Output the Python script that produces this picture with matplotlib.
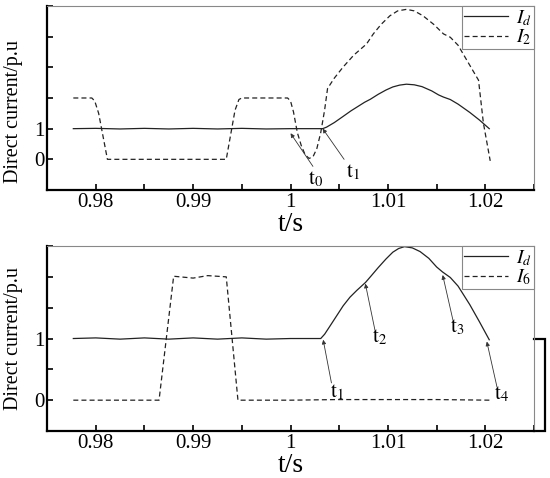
import numpy as np
import matplotlib
matplotlib.use("Agg")
import matplotlib.pyplot as plt

plt.rcParams['font.family'] = ['Liberation Serif', 'DejaVu Serif']
plt.rcParams['mathtext.fontset'] = 'stix'

# --- data ---
# upper panel
t_id_a = [0.9777, 0.980, 0.9825, 0.985, 0.9875, 0.990, 0.9925, 0.995, 0.9975, 1.000,
          1.0033, 1.0037, 1.0045, 1.0054, 1.0062, 1.0070, 1.0076, 1.0082, 1.0090,
          1.0098, 1.0105, 1.0112, 1.0119, 1.0127, 1.0135, 1.0145, 1.0152, 1.0157,
          1.0164, 1.0172, 1.0184, 1.0194, 1.0204]
v_id_a = [1.0, 1.01, 0.99, 1.01, 0.99, 1.01, 0.99, 1.01, 0.99, 1.0,
          1.0, 1.05, 1.20, 1.40, 1.58, 1.74, 1.86, 1.96, 2.12,
          2.26, 2.36, 2.42, 2.45, 2.43, 2.37, 2.23, 2.10, 2.03,
          1.95, 1.80, 1.53, 1.28, 1.0]

t_i2 = [0.9777, 0.9796, 0.9799, 0.9803, 0.9812, 0.9934, 0.9943, 0.9947, 0.9950,
        0.9997, 1.0000, 1.0003, 1.0007, 1.0011, 1.0015, 1.0019, 1.0023, 1.0027,
        1.0031, 1.0035, 1.0038, 1.0045, 1.0054, 1.0065, 1.0078, 1.0085, 1.0093,
        1.0102, 1.0110, 1.0119, 1.0127, 1.0136, 1.0147, 1.0157, 1.0164, 1.0172,
        1.0181, 1.0193, 1.0198, 1.0205]
v_i2 = [2.0, 2.0, 1.9, 1.5, 0.0, 0.0, 1.6, 1.95, 2.0,
        2.0, 1.9, 1.55, 0.87, 0.45, 0.15, 0.03, 0.08, 0.35,
        0.87, 1.61, 2.31, 2.65, 3.01, 3.40, 3.76, 4.09, 4.40,
        4.68, 4.84, 4.89, 4.84, 4.68, 4.40, 4.09, 3.98, 3.72,
        3.23, 2.58, 1.18, -0.05]

# lower panel
t_id_b = [0.9777, 0.980, 0.9825, 0.985, 0.9875, 0.990, 0.9925, 0.995, 0.9975, 1.000,
          1.0031, 1.0035, 1.0040, 1.0047, 1.0054, 1.0061, 1.0068, 1.0077, 1.0083,
          1.0090, 1.0098, 1.0105, 1.0111, 1.0117, 1.0125, 1.0133, 1.0142, 1.0150,
          1.0156, 1.0164, 1.0172, 1.0184, 1.0194, 1.0204]
v_id_b = [1.0, 1.01, 0.99, 1.01, 0.99, 1.01, 0.99, 1.01, 0.99, 1.0,
          1.0, 1.07, 1.19, 1.36, 1.53, 1.67, 1.78, 1.91, 2.02,
          2.15, 2.29, 2.40, 2.46, 2.49, 2.47, 2.41, 2.30, 2.16,
          2.08, 1.99, 1.85, 1.55, 1.27, 0.98]

t_i6 = [0.9777, 0.9865, 0.9880, 0.9900, 0.9915, 0.9934, 0.9946, 1.000, 1.0048, 1.0150, 1.0205]
v_i6 = [0.0, 0.0, 2.01, 1.98, 2.02, 2.0, 0.0, 0.0, 0.01, 0.01, 0.0]

xticks = [0.975, 0.98, 0.985, 0.99, 0.995, 1.0, 1.005, 1.01, 1.015, 1.02, 1.025]
xticklabels = ['', '0.98', '', '0.99', '', '1', '', '1.01', '', '1.02', '']

yticks_a = [-1, 0, 1, 2, 3, 4, 5]
yticklabels_a = ['', '0', '1', '', '', '', '']
yticks_b = [-0.5, 0, 0.5, 1, 1.5, 2, 2.5]
yticklabels_b = ['', '0', '', '1', '', '', '']

# annotation (label, arrow head, arrow tail, text position)
notes_a = [(r'$\mathrm{t}_0$', (1.0000, 0.85), (1.0023, -0.23), (1.0026, -0.65)),
           (r'$\mathrm{t}_1$', (1.0033, 1.0), (1.0055, 0.0), (1.0064, -0.43))]
notes_b = [(r'$\mathrm{t}_1$', (1.00335, 0.98), (1.0042, 0.28), (1.0048, 0.13)),
           (r'$\mathrm{t}_2$', (1.00768, 1.89), (1.0087, 1.11), (1.0091, 1.02)),
           (r'$\mathrm{t}_3$', (1.01562, 2.03), (1.0167, 1.28), (1.0171, 1.18)),
           (r'$\mathrm{t}_4$', (1.02015, 0.95), (1.0212, 0.21), (1.0217, 0.10))]


def style_axes(ax, yticks, yticklabels, ylim, ylab_y):
    ax.set_xlim(0.975, 1.025)
    ax.set_ylim(*ylim)
    ax.set_xticks(xticks)
    ax.set_xticklabels(xticklabels)
    ax.set_yticks(yticks)
    ax.set_yticklabels(yticklabels)
    ax.tick_params(direction='in', length=4, width=1.2, labelsize=15, pad=2)
    for s in ['left', 'bottom']:
        ax.spines[s].set_linewidth(1.6)
        ax.spines[s].set_color('black')
    for s in ['top', 'right']:
        ax.spines[s].set_linewidth(0.8)
        ax.spines[s].set_color('#888888')
    ax.set_ylabel('Direct current/p.u', fontsize=14.5)
    ax.yaxis.set_label_coords(-0.05, ylab_y)
    ax.set_xlabel('t/s', fontsize=20, labelpad=0)


def add_notes(ax, notes):
    for label, head, tail, tpos in notes:
        ax.annotate('', xy=head, xytext=tail,
                    arrowprops=dict(arrowstyle='-|>', lw=0.6, color='#333333',
                                    mutation_scale=6, shrinkA=0, shrinkB=0))
        ax.text(tpos[0], tpos[1], label, fontsize=15, ha='center', va='center')


fig = plt.figure(figsize=(5.5, 4.78), dpi=100)
ax1 = fig.add_axes([0.0855, 0.6025, 0.8855, 0.385])
ax2 = fig.add_axes([0.0855, 0.0983, 0.8855, 0.387])

ax1.plot(t_id_a, v_id_a, color='#222222', lw=0.9, label=r'$I_d$')
ax1.plot(t_i2, v_i2, color='#222222', lw=0.9, ls=(0, (4, 2.5)), label=r'$I_2$')
style_axes(ax1, yticks_a, yticklabels_a, (-1, 5), 0.424)
add_notes(ax1, notes_a)

ax2.plot(t_id_b, v_id_b, color='#222222', lw=0.9, label=r'$I_d$')
ax2.plot(t_i6, v_i6, color='#222222', lw=0.9, ls=(0, (4, 2.5)), label=r'$I_6$')
style_axes(ax2, yticks_b, yticklabels_b, (-0.5, 2.5), 0.5)
add_notes(ax2, notes_b)

# odd bracket at the right of the lower panel
ax2.plot([1.025, 1.0261, 1.0261, 1.025], [1.0, 1.0, -0.5, -0.5],
         color='black', lw=1.6, clip_on=False, solid_joinstyle='miter')

for ax in (ax1, ax2):
    leg = ax.legend(loc='upper right', borderaxespad=0, fancybox=False,
                    edgecolor='#888888', framealpha=1, fontsize=14,
                    handlelength=2.3, handletextpad=0.4, labelspacing=0.0,
                    borderpad=0.1)
    leg.get_frame().set_linewidth(0.8)

fig.savefig('out.png', dpi=100)
